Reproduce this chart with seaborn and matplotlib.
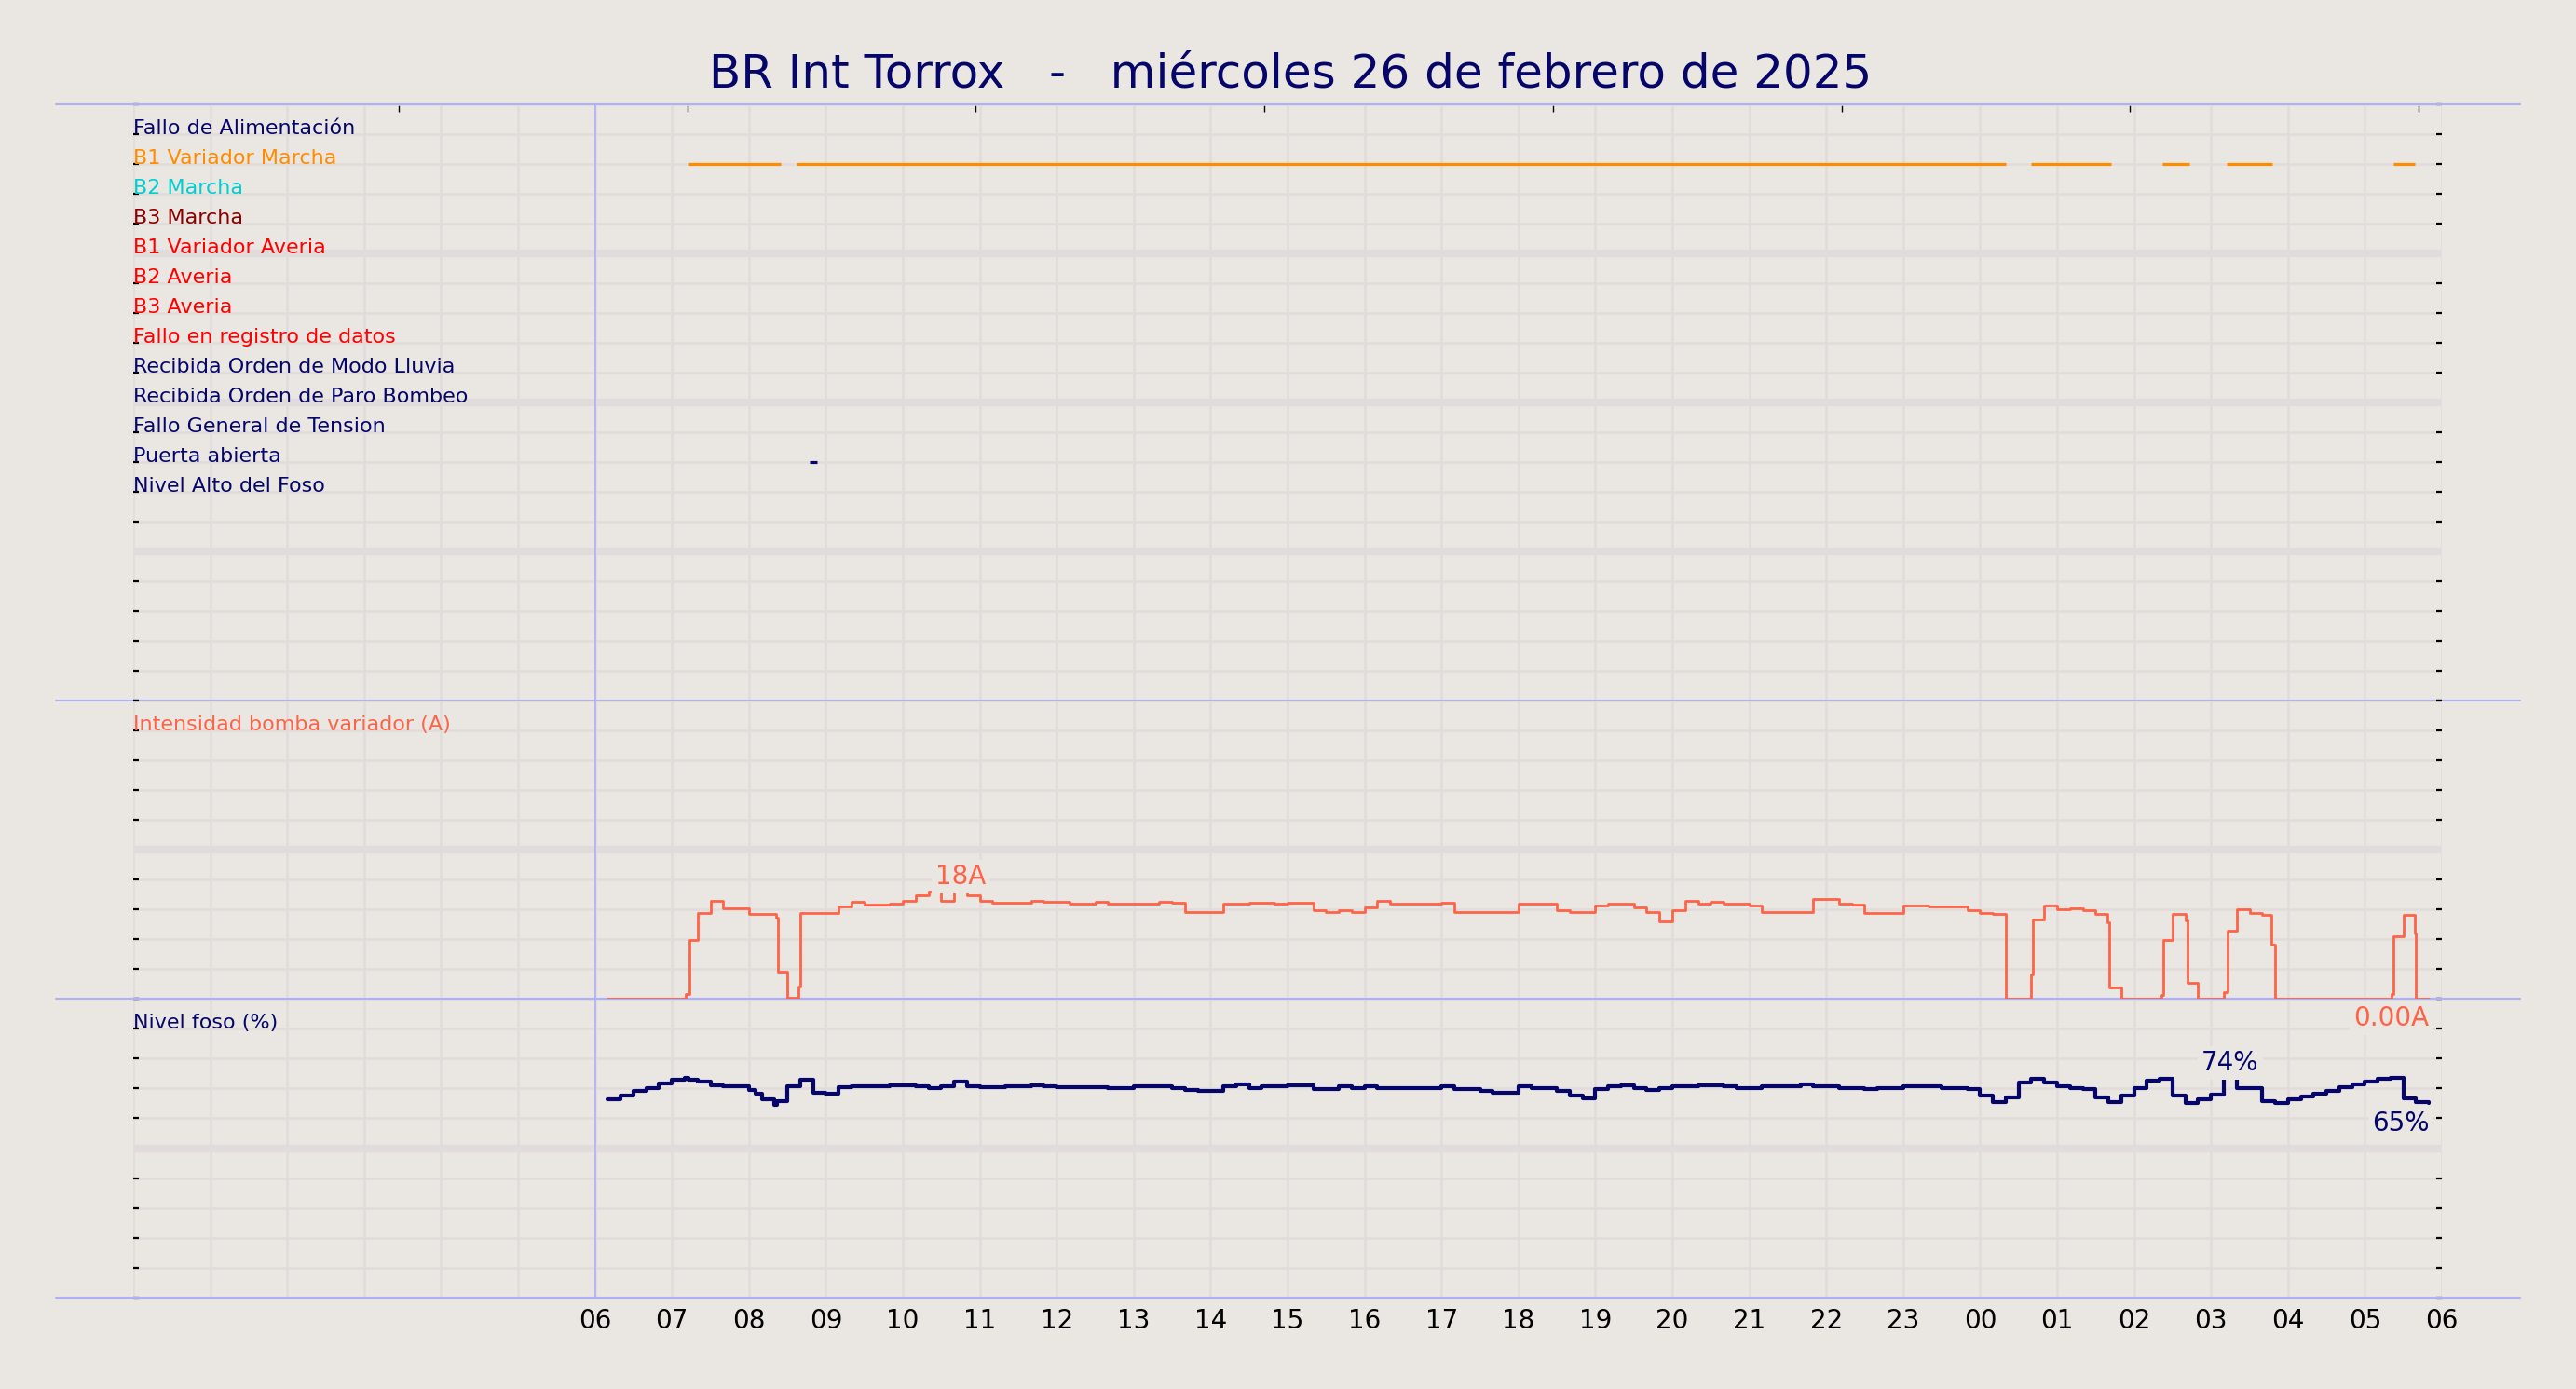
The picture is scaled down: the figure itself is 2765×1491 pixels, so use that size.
import pandas as pd
import seaborn as sns
import matplotlib.pyplot as plt
from matplotlib.lines import Line2D

# -------------------------------------
# DATA
# -------------------------------------
title = "BR Int Torrox   -   miércoles 26 de febrero de 2025"

signal_names = [
    "Fallo de Alimentación", "B1 Variador Marcha", "B2 Marcha", "B3 Marcha",
    "B1 Variador Averia", "B2 Averia", "B3 Averia", "Fallo en registro de datos",
    "Recibida Orden de Modo Lluvia", "Recibida Orden de Paro Bombeo",
    "Fallo General de Tension", "Puerta abierta", "Nivel Alto del Foso",
]
signal_colors = [
    "#06066A", "#FF8C00", "#00CED1", "#8B0000",
    "#FF0000", "#FF0000", "#FF0000", "#FF0000",
    "#06066A", "#06066A", "#06066A", "#06066A", "#06066A",
]
# periods where a signal is active (start, end)
b1_marcha_on = [("07:13", "08:25"), ("08:37", "00:20"), ("00:40", "01:42"),
                ("02:22", "02:43"), ("03:12", "03:48"), ("05:22", "05:39")]
puerta_on = [("08:47", "08:53")]

current_times = [
    "06:10", "07:11", "07:14", "07:20", "07:30", "07:40", "08:00", "08:21", "08:23",
    "08:30", "08:39", "08:40", "09:10", "09:20", "09:30", "09:50", "10:00", "10:10",
    "10:20", "10:30", "10:40", "10:50", "11:00", "11:10", "11:40", "11:50", "12:10",
    "12:30", "12:40", "13:20", "13:30", "13:40", "14:10", "14:30", "14:50", "15:00",
    "15:20", "15:30", "15:40", "15:50", "16:00", "16:10", "16:20", "16:50", "17:00",
    "17:10", "18:00", "18:30", "18:40", "19:00", "19:10", "19:30", "19:40", "19:50",
    "20:00", "20:10", "20:20", "20:30", "20:40", "20:50", "21:00", "21:10", "21:20",
    "21:50", "22:10", "22:20", "22:30", "23:00", "23:10", "23:20", "23:40", "23:50",
    "00:00", "00:10", "00:20", "00:40", "00:41", "00:50", "01:00", "01:10", "01:20",
    "01:30", "01:39", "01:41", "01:50", "02:21", "02:23", "02:30", "02:40", "02:42",
    "02:50", "03:10", "03:13", "03:20", "03:30", "03:40", "03:47", "03:50", "05:21",
    "05:22", "05:30", "05:39", "05:40", "05:50",
]
current_values = [
    0.0, 0.8, 9.8, 14.4, 16.4, 15.2, 14.2, 13.6, 4.6,
    0.1, 2.1, 14.4, 15.4, 16.2, 15.8, 15.9, 16.4, 17.3,
    18.0, 16.35, 18.4, 17.4, 16.35, 16.1, 16.4, 16.2, 16.0,
    16.2, 16.0, 16.25, 16.1, 14.6, 15.9, 16.1, 15.9, 16.1,
    14.8, 14.6, 14.8, 14.6, 15.3, 16.4, 16.0, 15.9, 16.1,
    14.6, 16.0, 14.8, 14.5, 15.6, 15.9, 15.3, 14.5, 12.9,
    14.8, 16.4, 16.0, 16.25, 16.0, 15.9, 15.7, 14.5, 14.6,
    16.7, 15.9, 15.8, 14.4, 15.7, 15.6, 15.5, 15.4, 14.9,
    14.4, 14.2, 0.0, 4.0, 13.3, 15.6, 15.0, 15.2, 14.9,
    14.2, 12.8, 1.8, 0.0, 0.6, 9.8, 14.2, 13.1, 2.7,
    0.0, 1.1, 11.4, 15.0, 14.4, 14.0, 9.0, 0.0, 0.8,
    10.5, 14.0, 11.0, 0.0, 0.0,
]

level_times = [
    "06:10", "06:20", "06:30", "06:40", "06:50", "07:00", "07:10", "07:13", "07:20",
    "07:30", "07:40", "08:00", "08:05", "08:10", "08:20", "08:22", "08:30", "08:40",
    "08:50", "09:00", "09:10", "09:20", "09:50", "10:10", "10:20", "10:30", "10:40",
    "10:50", "11:00", "11:20", "11:40", "11:50", "12:00", "12:40", "13:00", "13:30",
    "13:40", "13:50", "14:10", "14:20", "14:30", "14:40", "15:00", "15:20", "15:40",
    "15:50", "16:00", "16:10", "17:00", "17:10", "17:30", "17:40", "18:00", "18:10",
    "18:30", "18:40", "18:50", "19:00", "19:10", "19:20", "19:30", "19:40", "19:50",
    "20:00", "20:20", "20:30", "20:40", "20:50", "21:10", "21:20", "21:40", "21:50",
    "22:10", "22:30", "22:40", "23:00", "23:10", "23:20", "23:30", "23:50", "00:00",
    "00:10", "00:20", "00:30", "00:40", "00:50", "01:00", "01:10", "01:20", "01:30",
    "01:40", "01:50", "02:00", "02:10", "02:20", "02:30", "02:40", "02:50", "03:00",
    "03:10", "03:20", "03:40", "03:50", "04:00", "04:10", "04:20", "04:30", "04:40",
    "04:50", "05:00", "05:10", "05:20", "05:30", "05:40", "05:50",
]
level_values = [
    66.4, 67.7, 69.1, 70.2, 71.6, 72.8, 73.6, 72.8, 72.3,
    71.1, 70.7, 69.5, 68.3, 66.4, 64.6, 65.8, 70.6, 72.8,
    68.6, 68.2, 70.4, 70.6, 71.1, 70.8, 70.2, 70.6, 72.2,
    70.8, 70.4, 70.7, 71.1, 70.8, 70.4, 70.2, 70.6, 70.2,
    69.6, 69.2, 70.6, 71.3, 70.2, 70.6, 71.1, 69.7, 70.6,
    70.2, 70.6, 70.2, 70.6, 69.7, 69.3, 68.6, 70.6, 70.2,
    69.2, 67.7, 66.7, 69.9, 70.6, 71.0, 70.2, 69.6, 70.0,
    70.6, 71.0, 71.1, 70.8, 70.2, 70.6, 70.8, 71.3, 70.6,
    70.2, 69.9, 70.2, 70.6, 70.8, 70.6, 70.2, 69.7, 67.6,
    65.4, 67.1, 72.1, 73.1, 71.9, 70.6, 70.1, 69.9, 66.9,
    65.4, 67.7, 70.0, 72.6, 73.1, 67.7, 65.1, 66.4, 67.9,
    74.0, 70.2, 65.7, 65.1, 66.4, 67.4, 68.2, 69.3, 70.4,
    71.3, 72.4, 73.3, 73.6, 66.6, 65.4, 65.0,
]

hour_labels = ["", "", "", "", "", "", "06", "07", "08", "09", "10", "11", "12", "13",
               "14", "15", "16", "17", "18", "19", "20", "21", "22", "23", "00", "01",
               "02", "03", "04", "05", "06"]
top_ticks = [3.45, 7.2, 10.95, 14.7, 18.45, 22.2, 25.95, 29.7]

# -------------------------------------
# STYLE
# -------------------------------------
bg = "#EAE6E1"
grid_c = "#E1DCDB"
sep_c = "#B0B0FA"
navy = "#06066A"
tomato = "#FF6347"

sns.set_style("white")
plt.rcParams["font.family"] = ["DejaVu Sans"]


def to_hours(s):
    h, m = s.split(":")
    v = int(h) + int(m) / 60
    return v + 24 if v < 6 else v


cur = pd.DataFrame({"t": [to_hours(s) for s in current_times], "A": current_values})
lvl = pd.DataFrame({"t": [to_hours(s) for s in level_times], "pct": level_values})

fig = plt.figure(figsize=(27.65, 14.91), dpi=100, facecolor=bg)
W, H = 2765, 1491
left, right = 143, 2621


def rect(top, bottom):
    return [left / W, 1 - bottom / H, (right - left) / W, (bottom - top) / H]


ax1 = fig.add_axes(rect(112, 752))
ax2 = fig.add_axes(rect(752, 1072), sharex=ax1)
ax3 = fig.add_axes(rect(1072, 1393), sharex=ax1)


def style(ax, yticks, thick):
    ax.set_facecolor(bg)
    for s in ax.spines.values():
        s.set_visible(False)
    ax.set_xticks(range(0, 31))
    ax.set_yticks(yticks)
    ax.set_axisbelow(True)
    ax.grid(True, color=grid_c, lw=1.8)
    for y in thick:
        ax.axhline(y, color=grid_c, lw=6, zorder=0.6)
    ax.axvline(6, color=sep_c, lw=1.2, zorder=1)
    ax.tick_params(axis="x", length=0, labelbottom=False)
    ax.tick_params(axis="y", left=True, right=True, direction="in", length=4,
                   width=1.6, color="black", labelleft=False)
    ax.set_xlabel("")
    ax.set_ylabel("")


# ---- panel 1: digital signals
style(ax1, range(0, 21), [5, 10, 15])
for i, (name, c) in enumerate(zip(signal_names, signal_colors)):
    ax1.text(0.0, i + 1, name, ha="left", va="baseline", fontsize=16, color=c)
for s, e in b1_marcha_on:
    ax1.hlines(2, to_hours(s), to_hours(e), color="#FF8C00", lw=2.3)
for s, e in puerta_on:
    ax1.hlines(12, to_hours(s), to_hours(e), color=navy, lw=2.3)
ax1.set_ylim(20, 0)
sec = ax1.secondary_xaxis("top")
sec.set_xticks(top_ticks)
sec.tick_params(axis="x", direction="in", length=6, width=1, color="black", labeltop=False)
for s in sec.spines.values():
    s.set_visible(False)

# ---- panel 2: current (drawn above the level panel so its labels show)
style(ax2, range(0, 51, 5), [25])
ax2.set_zorder(3)
ax2.patch.set_visible(False)
ax2.axhline(0, color=sep_c, lw=1.5, zorder=1.8, clip_on=False)
sns.lineplot(data=cur, x="t", y="A", ax=ax2, color=tomato, lw=2,
             drawstyle="steps-post", estimator=None, legend=False, zorder=2)
ax2.set_ylim(0, 50)
ax2.set_xlabel("")
ax2.set_ylabel("")
ax2.text(0.0, 45, "Intensidad bomba variador (A)", va="baseline", fontsize=16, color=tomato)
im = cur["A"].idxmax()
ax2.annotate(f"{cur['A'][im]:.0f}A", xy=((cur["t"][im] + cur["t"][im + 1]) / 2, cur["A"][im]),
             xytext=(0, 4), textcoords="offset points", ha="center", va="baseline",
             fontsize=20, color=tomato, zorder=5,
             bbox=dict(boxstyle="square,pad=0.15", fc=bg, ec="none"))
ax2.annotate(f"{cur['A'].iloc[-1]:.2f}A", xy=(cur["t"].iloc[-1], cur["A"].iloc[-1]),
             xytext=(0, -21), textcoords="offset points", ha="right", va="baseline",
             fontsize=20, color=tomato, zorder=5, annotation_clip=False,
             bbox=dict(boxstyle="square,pad=0.15", fc=bg, ec="none"))

# ---- panel 3: level
style(ax3, range(0, 101, 10), [50])
sns.lineplot(data=lvl, x="t", y="pct", ax=ax3, color=navy, lw=3,
             drawstyle="steps-post", estimator=None, legend=False)
ax3.set_ylim(0, 100)
ax3.set_xlabel("")
ax3.set_ylabel("")
ax3.text(0.0, 90, "Nivel foso (%)", va="baseline", fontsize=16, color=navy)
il = lvl["pct"].idxmax()
ax3.annotate(f"{lvl['pct'][il]:.0f}%", xy=((lvl["t"][il] + lvl["t"][il + 1]) / 2, lvl["pct"][il]),
             xytext=(0, 4.5), textcoords="offset points", ha="center", va="baseline",
             fontsize=20, color=navy, zorder=5,
             bbox=dict(boxstyle="square,pad=0.15", fc=bg, ec="none"))
ax3.annotate(f"{lvl['pct'].iloc[-1]:.0f}%", xy=(lvl["t"].iloc[-1], lvl["pct"].iloc[-1]),
             xytext=(0, -21), textcoords="offset points", ha="right", va="baseline",
             fontsize=20, color=navy, zorder=5,
             bbox=dict(boxstyle="square,pad=0.15", fc=bg, ec="none"))

ax3.set_xlim(0, 30)
ax3.set_xticks(range(0, 31))
ax3.set_xticklabels(hour_labels)
ax3.tick_params(axis="x", labelbottom=True, labelsize=20, pad=8, colors="black")

# separator lines between panels
for y in (112, 752, 1072, 1393):
    fig.add_artist(Line2D([60 / W, 2705 / W], [1 - y / H, 1 - y / H],
                          transform=fig.transFigure, color=sep_c, lw=1.5))

fig.text(0.5009, 1 - 80 / H, title, ha="center", va="center", fontsize=36, color=navy)

fig.savefig("out.png", dpi=100, facecolor=bg)
